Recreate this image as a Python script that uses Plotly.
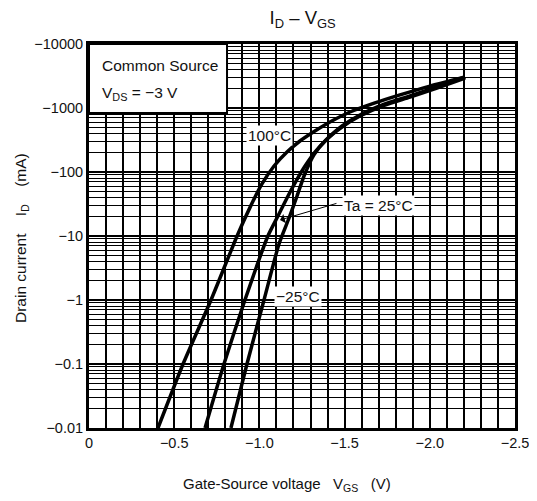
import plotly.graph_objects as go

# Gate-source voltage (V) and drain current (mA)
V_100 = [-0.405, -0.552, -0.716, -0.869, -0.945, -1.015, -1.086, -1.162, -1.238, -1.326,
         -1.414, -1.532, -1.678, -1.825, -2.001, -2.207]
I_100 = [-0.01, -0.1, -1, -10, -28, -65, -124, -205, -305, -437,
         -604, -866, -1200, -1600, -2200, -3050]

V_25 = [-0.681, -0.792, -0.915, -1.050, -1.109, -1.162, -1.215, -1.268, -1.326, -1.397,
        -1.485, -1.590, -1.737, -1.884, -2.042, -2.207]
I_25 = [-0.01, -0.1, -1, -10, -20.5, -39.3, -72, -124, -205, -328,
        -523, -778, -1155, -1540, -2130, -3050]

V_M25 = [-0.833, -0.927, -1.027, -1.115, -1.174, -1.221, -1.262, -1.320, -1.391, -1.485,
         -1.590, -1.737, -1.884, -2.042, -2.207]
I_M25 = [-0.01, -0.1, -1, -7.5, -19.1, -42.2, -86.6, -185, -316, -505,
         -750, -1114, -1486, -2054, -2943]

X_TICKS = [0, -0.5, -1.0, -1.5, -2.0, -2.5]
X_TICK_TEXT = ["0", "\u22120.5", "\u22121.0", "\u22121.5", "\u22122.0", "\u22122.5"]
Y_TICKS = [0.01, 0.1, 1, 10, 100, 1000, 10000]
Y_TICK_TEXT = ["\u22120.01", "\u22120.1", "\u22121", "\u221210", "\u2212100", "\u22121000", "\u221210000"]

FONT = "Arial, Liberation Sans, sans-serif"
TXT = "#111"

fig = go.Figure()
for vs, cs in [(V_100, I_100), (V_25, I_25), (V_M25, I_M25)]:
    fig.add_trace(go.Scatter(
        x=vs, y=[-c for c in cs], mode="lines",
        line=dict(color="black", width=3.5, shape="spline", smoothing=0.6),
        showlegend=False, hoverinfo="skip"))

minor_y = [k * 10.0 ** e for e in range(-2, 4) for k in range(2, 10)]

fig.update_layout(
    width=529, height=493,
    margin=dict(l=81, r=22, t=36, b=73, autoexpand=False),
    paper_bgcolor="white", plot_bgcolor="white",
    font=dict(family=FONT, size=14.5, color=TXT),
    title=dict(text="I<sub>D</sub> \u2013 V<sub>GS</sub>", x=0.557, xanchor="center",
               y=0.98, yanchor="middle", font=dict(size=18.5, family=FONT, color=TXT)),
    xaxis=dict(range=[0, -2.5], tickvals=X_TICKS, ticktext=X_TICK_TEXT, automargin=False,
               showgrid=True, gridcolor="black", gridwidth=1.7,
               minor=dict(dtick=0.1, tick0=0, showgrid=True, gridcolor="black", gridwidth=1.7, ticklen=0),
               showline=True, linecolor="black", linewidth=3, mirror=True,
               ticks="", ticklen=0, zeroline=False, tickfont=dict(size=14.5)),
    yaxis=dict(type="log", range=[-2, 4], tickvals=Y_TICKS, ticktext=Y_TICK_TEXT, automargin=False,
               showgrid=True, gridcolor="black", gridwidth=1.7,
               minor=dict(tickvals=minor_y, showgrid=True, gridcolor="black", gridwidth=1.4, ticklen=0),
               showline=True, linecolor="black", linewidth=3, mirror=True,
               ticks="", ticklen=0, zeroline=False, tickfont=dict(size=14.5)),
)

# Axis titles
fig.add_annotation(xref="paper", yref="paper", x=0.465, y=-0.148, xanchor="center", yanchor="middle",
                   text="Gate-Source voltage   V<sub>GS</sub>   (V)", showarrow=False,
                   font=dict(size=15, family=FONT, color=TXT))
fig.add_annotation(xref="paper", yref="paper", x=-0.157, y=0.495, xanchor="center", yanchor="middle",
                   text="Drain current    I<sub>D</sub>    (mA)", showarrow=False, textangle=-90,
                   font=dict(size=15.5, family=FONT, color=TXT))

# Condition box
fig.add_shape(type="rect", xref="paper", yref="paper", x0=0, x1=0.324, y0=0.82, y1=1,
              fillcolor="white", line=dict(color="black", width=2), layer="above")
fig.add_annotation(xref="paper", yref="paper", x=0.026, y=0.943, xanchor="left", yanchor="middle",
                   text="Common Source", showarrow=False, font=dict(size=15.5, family=FONT, color=TXT))
fig.add_annotation(xref="paper", yref="paper", x=0.026, y=0.872, xanchor="left", yanchor="middle",
                   text="V<sub>DS</sub> = \u22123 V", showarrow=False, font=dict(size=15.5, family=FONT, color=TXT))

# Curve labels
fig.add_annotation(x=-1.062, y=2.578, text="100\u00b0C", showarrow=False, bgcolor="white",
                   font=dict(size=15.5, family=FONT, color=TXT), borderpad=1)
fig.add_annotation(x=-1.227, y=0.047, text="\u221225\u00b0C", showarrow=False, bgcolor="white",
                   font=dict(size=15.5, family=FONT, color=TXT), borderpad=1)
fig.add_annotation(x=-1.121, y=1.25, ax=-1.461, ay=1.516, axref="x", ayref="y",
                   text="", showarrow=True, arrowhead=1, arrowsize=1.6, arrowwidth=1, arrowcolor="black")
fig.add_annotation(x=-1.696, y=1.469, text="Ta = 25\u00b0C", showarrow=False, bgcolor="white",
                   font=dict(size=15.5, family=FONT, color=TXT), borderpad=1)

fig.write_html("out.html")
